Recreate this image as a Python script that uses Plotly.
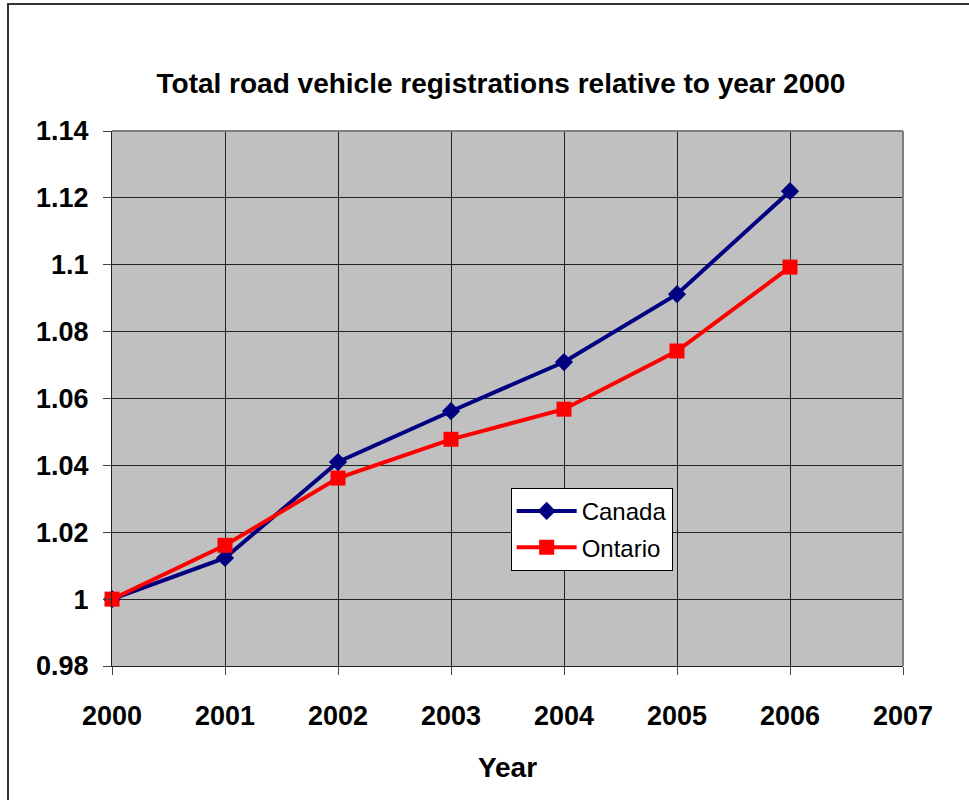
import plotly.graph_objects as go

# Index of total road vehicle registrations (2000 = 1)
years = [2000, 2001, 2002, 2003, 2004, 2005, 2006]
canada = [1.000, 1.0123, 1.0410, 1.0562, 1.0709, 1.0912, 1.1220]
ontario = [1.000, 1.0161, 1.0362, 1.0478, 1.0568, 1.0742, 1.0993]

y_tickvals = [0.98, 1.00, 1.02, 1.04, 1.06, 1.08, 1.10, 1.12, 1.14]
y_ticktext = ["0.98", "1", "1.02", "1.04", "1.06", "1.08", "1.1", "1.12", "1.14"]
x_tickvals = [2000, 2001, 2002, 2003, 2004, 2005, 2006, 2007]

FONT = "Liberation Sans, Arial, sans-serif"

fig = go.Figure()
fig.add_trace(go.Scatter(
    x=years, y=canada, name="Canada", mode="lines+markers",
    line=dict(color="#000080", width=4),
    marker=dict(symbol="diamond", size=14, color="#000080"),
    cliponaxis=False, legendgroup="ca",
))
fig.add_trace(go.Scatter(
    x=years, y=ontario, name="Ontario", mode="lines+markers",
    line=dict(color="#FF0000", width=4),
    marker=dict(symbol="square", size=15, color="#FF0000"),
    cliponaxis=False, legendgroup="on",
))

fig.update_layout(
    width=969, height=800,
    margin=dict(l=112, r=66, t=131, b=134),
    paper_bgcolor="white",
    plot_bgcolor="#C0C0C0",
    font=dict(family=FONT, color="black"),
    title=dict(
        text="<b>Total road vehicle registrations relative to year 2000</b>",
        x=0.517, xref="container", xanchor="center",
        y=1 - 83 / 800, yref="container", yanchor="middle",
        font=dict(size=28, family=FONT),
    ),
    legend=dict(
        x=0.504, y=0.333, xanchor="left", yanchor="top",
        bgcolor="white", bordercolor="black", borderwidth=1,
        font=dict(size=24, family=FONT),
        itemwidth=60, traceorder="grouped", tracegroupgap=2,
    ),
    xaxis=dict(
        range=[2000, 2007], tickvals=x_tickvals,
        showgrid=True, gridcolor="#222222", gridwidth=1,
        showline=True, linecolor="#222222", linewidth=1,
        ticks="outside", ticklen=8, tickcolor="#444444",
        ticklabelstandoff=18,
        tickfont=dict(size=27, family=FONT, weight="bold"),
        title=dict(text="<b>Year</b>", font=dict(size=28, family=FONT), standoff=26),
        zeroline=False,
    ),
    yaxis=dict(
        range=[0.98, 1.14], tickvals=y_tickvals, ticktext=y_ticktext,
        showgrid=True, gridcolor="#222222", gridwidth=1,
        showline=True, linecolor="#222222", linewidth=1,
        ticks="outside", ticklen=8, tickcolor="#444444",
        ticklabelstandoff=9,
        tickfont=dict(size=27, family=FONT, weight="bold"),
        zeroline=False,
    ),
    showlegend=True,
)

# Gray border on top and right of the plot area
fig.add_shape(type="line", xref="paper", yref="paper", x0=0, x1=1, y0=1, y1=1,
              line=dict(color="#808080", width=2))
fig.add_shape(type="line", xref="paper", yref="paper", x0=1, x1=1, y0=0, y1=1,
              line=dict(color="#808080", width=2))

# Outer chart frame (left and top edges)
fig.add_shape(type="rect", xref="paper", yref="paper",
              x0=(8 - 112) / 791, x1=2, y0=-2, y1=1 + (131 - 4) / 535,
              line=dict(color="#333333", width=2), layer="below")

fig.write_html("out.html")
